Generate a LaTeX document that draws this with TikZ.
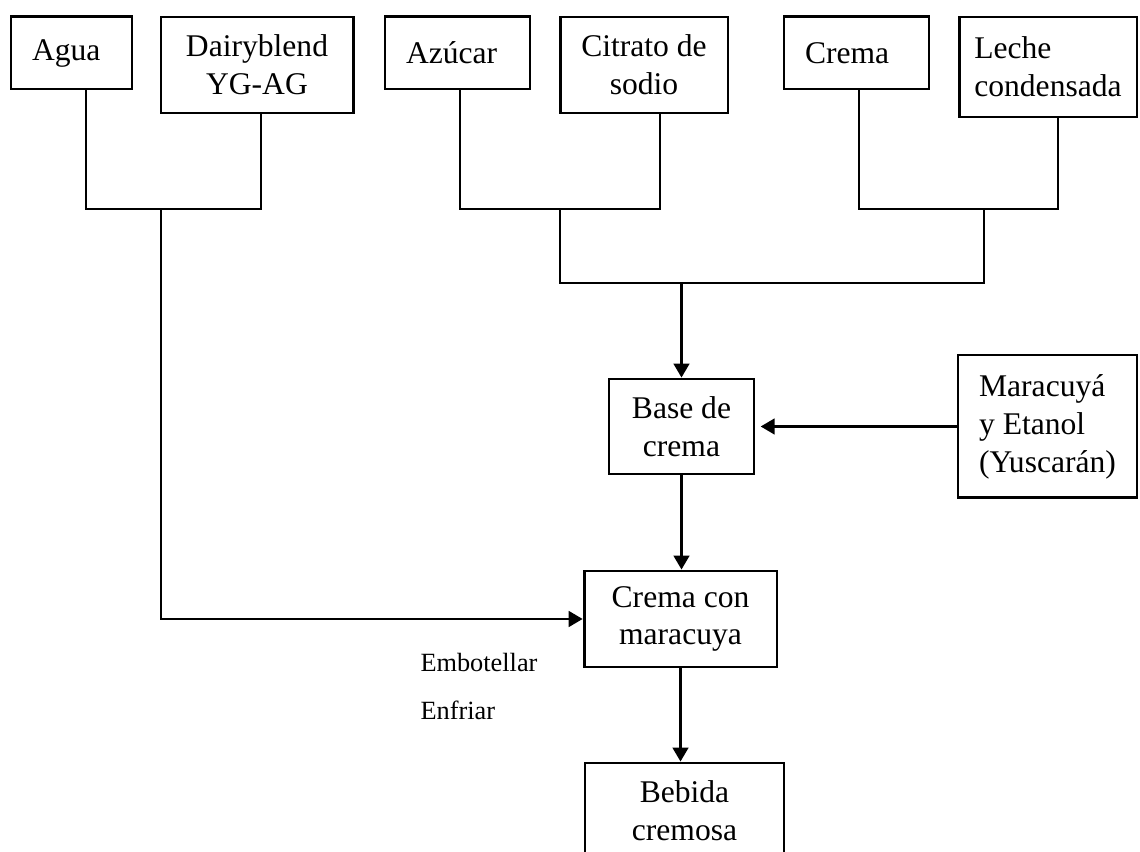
\documentclass[tikz,border=0pt]{standalone}
\usepackage{fontspec}
\setmainfont{Liberation Serif}
\usetikzlibrary{arrows.meta}

\tikzset{
  caja/.style={draw, line width=1.1pt, inner sep=0pt, font=\fontsize{12}{14.4}\selectfont},
  cajac/.style 2 args={caja, align=center, minimum width=#1, minimum height=#2},
  cajai/.style 2 args={caja, align=left, text width=#1, inner xsep=8pt, minimum height=#2},
  linea/.style={line width=0.85pt},
  flecha/.style={linea, -{Triangle[length=5.3pt,width=6pt]}},
  nota/.style={font=\fontsize{10}{12}\selectfont, anchor=west, inner sep=0pt}
}

\begin{document}
\begin{tikzpicture}[x=0.38pt, y=-0.38pt]
  \useasboundingbox (0,0) rectangle (1140,852);

  % ingredientes
  \node[cajai={30pt}{27.4pt}] (agua) at (71.5,53) {Agua};
  \node[cajac={73pt}{36.5pt}] (dairy) at (257,65) {Dairyblend\\YG-AG};
  \node[cajai={39.1pt}{27.4pt}] (azucar) at (457.5,53) {Azúcar};
  \node[cajac={63.8pt}{36.5pt}] (citrato) at (644,65) {Citrato de\\sodio};
  \node[cajai={39.1pt}{27.4pt}] (crema) at (856.5,53) {Crema};
  \node[cajac={67.6pt}{38pt}, align=left] (leche) at (1048,67) {Leche\\condensada};

  % proceso
  \node[cajac={55.1pt}{36.1pt}] (base) at (681.5,426.5) {Base de\\crema};
  \node[cajac={68pt}{54.3pt}, align=left] (maracuya) at (1047.5,426.5) {Maracuyá\\y Etanol\\(Yuscarán)};
  \node[cajac={73.3pt}{36.5pt}] (cremacon) at (680.5,619) {Crema con\\maracuya};
  \node[cajac={75.6pt}{36.5pt}] (bebida) at (684.5,811) {Bebida\\cremosa};
  \node[nota] (embotellar) at (420,663) {Embotellar};
  \node[nota] (enfriar) at (420,710) {Enfriar};

  \coordinate (b1) at (86,209);
  \coordinate (b2) at (261,209);
  \coordinate (b3) at (460,209);
  \coordinate (b4) at (660,209);
  \coordinate (b5) at (859,209);
  \coordinate (b6) at (1058,209);
  \coordinate (m1) at (161,209);
  \coordinate (m2) at (560,209);
  \coordinate (m3) at (984,209);
  \coordinate (j2) at (560,283);
  \coordinate (j3) at (984,283);

  \draw[linea] (agua.south -| b1) -- (b1) -- (b2) -- (dairy.south -| b2);
  \draw[linea] (azucar.south -| b3) -- (b3) -- (b4) -- (citrato.south -| b4);
  \draw[linea] (crema.south -| b5) -- (b5) -- (b6) -- (leche.south -| b6);
  \draw[linea] (m2) -- (j2) -- (j3) -- (m3);

  \draw[flecha] (j2 -| base) -- (base);
  \draw[flecha, shorten >=2pt] (maracuya) -- (base);
  \draw[flecha] (base.south) -- (base.south |- cremacon.north);
  \draw[flecha] (m1) |- (cremacon);
  \draw[flecha] (cremacon.south) -- (cremacon.south |- bebida.north);
\end{tikzpicture}
\end{document}
